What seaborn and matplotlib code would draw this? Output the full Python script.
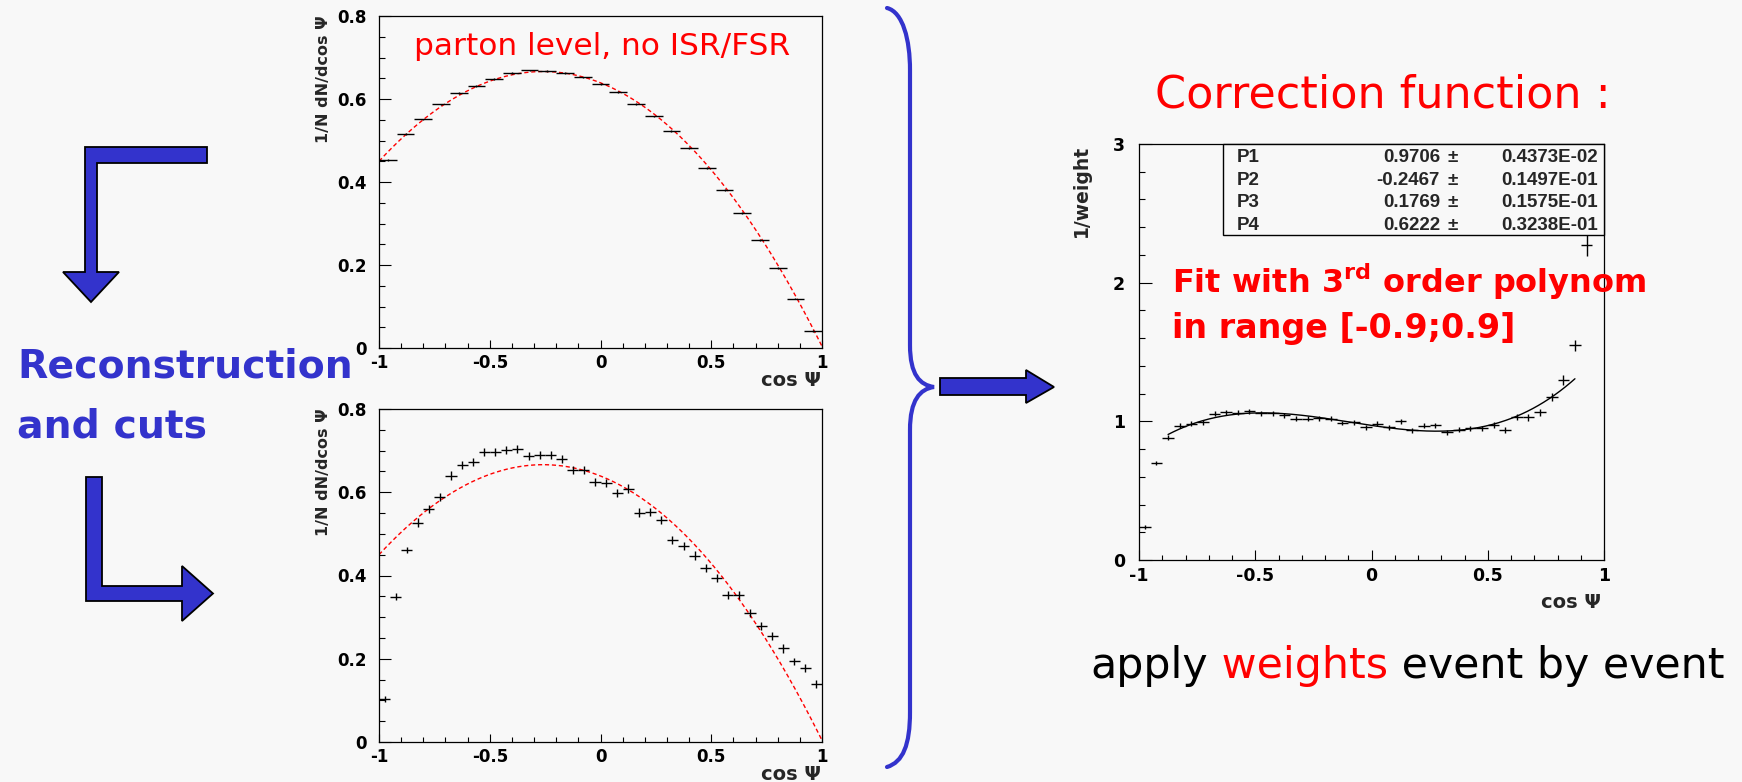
import numpy as np
import matplotlib
matplotlib.use("Agg")
import matplotlib.pyplot as plt
from matplotlib.patches import Polygon, Rectangle, PathPatch
from matplotlib.path import Path
from matplotlib.ticker import MultipleLocator, FuncFormatter
import seaborn as sns

# ---------------- data ----------------
# parton level, no ISR/FSR : 25 bins on [-1, 1]
parton_centers = np.linspace(-0.96, 0.96, 25)
parton_values = [0.453, 0.515, 0.551, 0.587, 0.614, 0.632, 0.648, 0.663, 0.669, 0.668,
                 0.663, 0.652, 0.636, 0.617, 0.588, 0.558, 0.523, 0.482, 0.433, 0.380,
                 0.325, 0.261, 0.193, 0.119, 0.041]
parton_err = [0.002] * 25

# after reconstruction and cuts : 40 bins on [-1, 1]
reco_centers = np.linspace(-0.975, 0.975, 40)
reco_values = [0.103, 0.349, 0.461, 0.527, 0.559, 0.588, 0.640, 0.665, 0.673, 0.697,
               0.696, 0.701, 0.704, 0.687, 0.689, 0.689, 0.680, 0.654, 0.653, 0.624,
               0.623, 0.599, 0.609, 0.551, 0.552, 0.533, 0.485, 0.471, 0.448, 0.418,
               0.394, 0.353, 0.353, 0.310, 0.278, 0.254, 0.225, 0.194, 0.178, 0.139]
reco_err = [0.008] * 3 + [0.010] * 34 + [0.009] * 3

# generator-level shape (polynomial coefficients, constant term first)
shape_coef = [0.639, -0.211, -0.412, -0.012]

# correction function 1/weight : 40 bins, last bin empty
corr_centers = np.linspace(-0.975, 0.925, 39)
corr_values = [0.239, 0.701, 0.882, 0.969, 0.983, 0.993, 1.053, 1.065, 1.063, 1.072,
               1.058, 1.058, 1.043, 1.019, 1.019, 1.022, 1.017, 0.988, 0.993, 0.957,
               0.981, 0.959, 1.000, 0.937, 0.969, 0.973, 0.923, 0.940, 0.949, 0.949,
               0.973, 0.937, 1.031, 1.029, 1.065, 1.176, 1.300, 1.548, 2.269]
corr_err = ([0.012, 0.015] + [0.018] * 28 +
            [0.020, 0.020, 0.022, 0.024, 0.026, 0.030, 0.036, 0.042, 0.076])

# 3rd order polynomial fit parameters
fit_names = ["P1", "P2", "P3", "P4"]
fit_values = [0.9706, -0.2467, 0.1769, 0.6222]
fit_errors = ["0.4373E-02", "0.1497E-01", "0.1575E-01", "0.3238E-01"]
fit_range = (-0.875, 0.875)

# ---------------- style ----------------
BG = "#f8f8f8"
BLUE = "#3333cc"
RED = "#ff0000"
W, H = 1742, 782

sns.set_theme(style="ticks", rc={"figure.facecolor": BG, "axes.facecolor": BG,
                                 "savefig.facecolor": BG})
plt.rcParams["font.family"] = ["DejaVu Sans"]
plt.rcParams["font.weight"] = "bold"
plt.rcParams["axes.unicode_minus"] = False
plt.rcParams["mathtext.fontset"] = "dejavusans"

fig = plt.figure(figsize=(W / 100, H / 100), dpi=100)


def frame(x0, y0, x1, y1):
    return [x0 / W, 1 - y1 / H, (x1 - x0) / W, (y1 - y0) / H]


ax_top = fig.add_axes(frame(379, 16, 822, 348))
ax_bot = fig.add_axes(frame(379, 409, 822, 742))
ax_cor = fig.add_axes(frame(1139, 144, 1604, 560))


def root_axes(ax, ymax, ymaj, ymin, ylen, xlen, fs, ypad, xpad):
    ax.set_xlim(-1, 1)
    ax.set_ylim(0, ymax)
    ax.xaxis.set_major_locator(MultipleLocator(0.5))
    ax.xaxis.set_minor_locator(MultipleLocator(0.1))
    ax.yaxis.set_major_locator(MultipleLocator(ymaj))
    ax.yaxis.set_minor_locator(MultipleLocator(ymin))
    fmt = FuncFormatter(lambda v, p: f"{v:g}")
    ax.xaxis.set_major_formatter(fmt)
    ax.yaxis.set_major_formatter(fmt)
    ax.tick_params(axis="both", which="both", direction="in", top=False, right=False,
                   color="black", width=0.8, labelsize=fs, labelcolor="black")
    ax.tick_params(axis="y", which="major", length=ylen[0], pad=ypad)
    ax.tick_params(axis="y", which="minor", length=ylen[1])
    ax.tick_params(axis="x", which="major", length=xlen[0], pad=xpad)
    ax.tick_params(axis="x", which="minor", length=xlen[1])
    for s in ax.spines.values():
        s.set_visible(True)
        s.set_color("black")
        s.set_linewidth(0.9)
    ax.set_xlabel("")
    ax.set_ylabel("")


def poly(coef, x):
    return sum(c * x ** i for i, c in enumerate(coef))


xs = np.linspace(-1, 1, 400)

# parton level
root_axes(ax_top, 0.8, 0.2, 0.05, (8.4, 4), (6, 3.6), 12, 9, 4)
ax_top.errorbar(parton_centers, parton_values, xerr=0.04, yerr=parton_err, fmt="none",
                ecolor="black", elinewidth=1.0, capsize=0, zorder=3)
sns.lineplot(x=xs, y=poly(shape_coef, xs), ax=ax_top, color=RED, lw=1.0,
             linestyle=(0, (3, 2)), zorder=2)

# reconstructed
root_axes(ax_bot, 0.8, 0.2, 0.05, (8.4, 4), (6, 3.6), 12, 9, 4)
ax_bot.errorbar(reco_centers, reco_values, xerr=0.025, yerr=reco_err, fmt="none",
                ecolor="black", elinewidth=1.0, capsize=0, zorder=3)
sns.lineplot(x=xs, y=poly(shape_coef, xs), ax=ax_bot, color=RED, lw=1.0,
             linestyle=(0, (3, 2)), zorder=2)

# correction function
root_axes(ax_cor, 3, 1, 0.2, (9, 4.5), (7, 3.6), 12.5, 10, 5)
ax_cor.errorbar(corr_centers, corr_values, xerr=0.025, yerr=corr_err, fmt="none",
                ecolor="black", elinewidth=1.0, capsize=0, zorder=3)
xf = np.linspace(fit_range[0], fit_range[1], 300)
sns.lineplot(x=xf, y=poly(fit_values, xf), ax=ax_cor, color="black", lw=1.0, zorder=2)

# ---------------- annotation layer in pixel coordinates ----------------
ov = fig.add_axes([0, 0, 1, 1], zorder=10)
ov.set_xlim(0, W)
ov.set_ylim(H, 0)
ov.axis("off")
ov.patch.set_alpha(0)

ROOT = ["DejaVu Sans"]
BOX = ["Liberation Sans", "DejaVu Sans"]
HAND = ["DejaVu Sans"]

# axis titles
ov.text(323, 15, "1/N dN/dcos Ψ", rotation=90, ha="center", va="top",
        fontsize=11.5, family=ROOT, fontweight="bold")
ov.text(323, 408, "1/N dN/dcos Ψ", rotation=90, ha="center", va="top",
        fontsize=11.5, family=ROOT, fontweight="bold")
ov.text(1081, 145, "1/weight", rotation=90, ha="center", va="top",
        fontsize=13.5, family=ROOT, fontweight="bold")
ov.text(821, 381, "cos Ψ", ha="right", va="center", fontsize=14, family=ROOT,
        fontweight="bold")
ov.text(821, 774, "cos Ψ", ha="right", va="center", fontsize=14, family=ROOT,
        fontweight="bold")
ov.text(1601, 602, "cos Ψ", ha="right", va="center", fontsize=14, family=ROOT,
        fontweight="bold")

# fit statistics box
ov.add_patch(Rectangle((1223, 144), 1604 - 1223, 235 - 144, facecolor=BG,
                       edgecolor="black", lw=1.0, zorder=5))
row_y = [162, 185, 207, 230]
for name, val, err, yb in zip(fit_names, fit_values, fit_errors, row_y):
    ov.text(1237, yb, name, ha="left", va="baseline", fontsize=13.5, family=BOX,
            fontweight="bold", zorder=6)
    ov.text(1440, yb, f"{val:.4f}", ha="right", va="baseline", fontsize=13.5,
            family=BOX, fontweight="bold", zorder=6)
    ov.text(1453, yb, "±", ha="center", va="baseline", fontsize=13.5,
            family=BOX, fontweight="bold", zorder=6)
    ov.text(1501, yb, err, ha="left", va="baseline", fontsize=13.5, family=BOX,
            fontweight="bold", zorder=6)

# slide texts
ov.text(414, 55, "parton level, no ISR/FSR", ha="left", va="baseline", color=RED,
        fontsize=22.5, family=HAND, fontweight="normal")
ov.text(17, 378, "Reconstruction", ha="left", va="baseline", color=BLUE,
        fontsize=28.4, family=HAND, fontweight="bold")
ov.text(17, 437, "and cuts", ha="left", va="baseline", color=BLUE,
        fontsize=28.4, family=HAND, fontweight="bold")
ov.text(1155, 108, "Correction function :", ha="left", va="baseline", color=RED,
        fontsize=32, family=HAND, fontweight="normal")
ov.text(1172, 293, "Fit with 3$^{\\mathbf{rd}}$ order polynom", ha="left",
        va="baseline", color=RED, fontsize=23, family=HAND, fontweight="bold")
ov.text(1172, 338, "in range [-0.9;0.9]", ha="left", va="baseline", color=RED,
        fontsize=24, family=HAND, fontweight="bold")

renderer = fig.canvas.get_renderer()
x_cursor = 1090
for piece, col in [("apply", "black"), (" weights", RED), (" event by event", "black")]:
    t = ov.text(x_cursor, 678, piece, ha="left", va="baseline", color=col,
                fontsize=30.8, family=HAND, fontweight="normal")
    bb = t.get_window_extent(renderer)
    x_cursor = ov.transData.inverted().transform((bb.x1, bb.y0))[0]

# arrows
arrow_style = dict(facecolor=BLUE, edgecolor="black", lw=1.3, joinstyle="miter")
ov.add_patch(Polygon([(207, 147), (85, 147), (85, 272), (63, 272), (91, 302),
                      (119, 272), (97, 272), (97, 163), (207, 163)], closed=True,
                     **arrow_style))
ov.add_patch(Polygon([(86, 477), (102, 477), (102, 586), (182, 586), (182, 566),
                      (213, 593.5), (182, 621), (182, 601), (86, 601)], closed=True,
                     **arrow_style))
ov.add_patch(Polygon([(940, 378), (1026, 378), (1026, 370), (1054, 387), (1026, 403),
                      (1026, 395), (940, 395)], closed=True, **arrow_style))

# curly brace
verts = [(887, 8), (903, 12), (910, 40), (910, 70),
         (910, 345),
         (910, 375), (920, 385), (934, 387),
         (920, 389), (910, 400), (910, 430),
         (910, 712),
         (910, 745), (903, 762), (887, 767)]
codes = [Path.MOVETO, Path.CURVE4, Path.CURVE4, Path.CURVE4,
         Path.LINETO,
         Path.CURVE4, Path.CURVE4, Path.CURVE4,
         Path.CURVE4, Path.CURVE4, Path.CURVE4,
         Path.LINETO,
         Path.CURVE4, Path.CURVE4, Path.CURVE4]
ov.add_patch(PathPatch(Path(verts, codes), facecolor="none", edgecolor=BLUE,
                       lw=3.0, capstyle="round"))

fig.savefig("out.png", dpi=100, facecolor=BG)
